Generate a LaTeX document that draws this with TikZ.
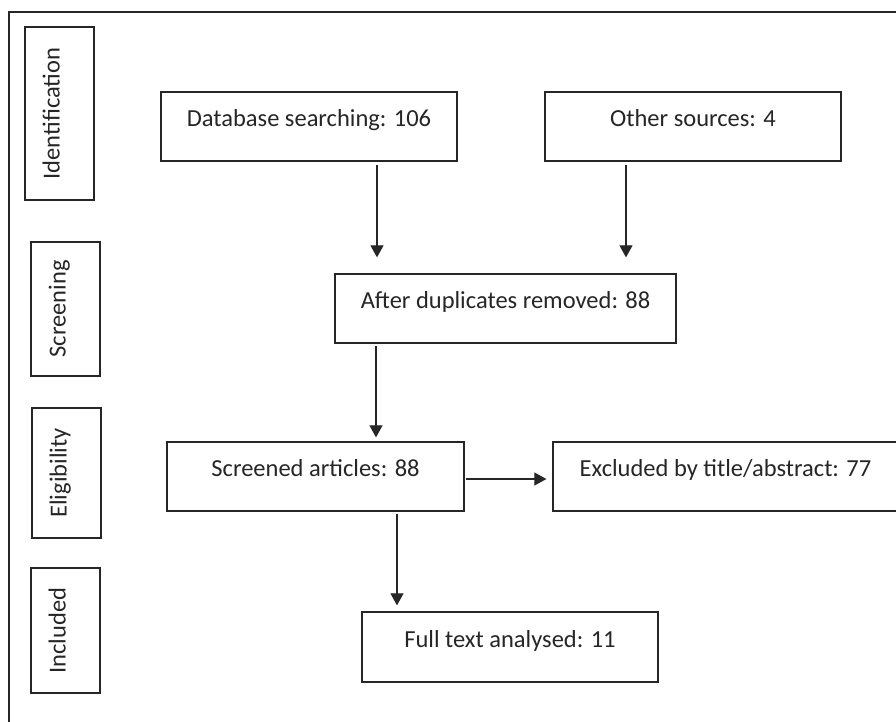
\documentclass[tikz,border=0pt]{standalone}
\usepackage{fontspec}
\setmainfont{Carlito}
\usetikzlibrary{arrows.meta}
\definecolor{ink}{HTML}{262626}
\tikzset{
    box/.style={draw=ink, line width=1.3pt, text=ink, inner sep=0pt,
        minimum height=69pt, text height=12pt, text depth=12pt,
        font=\fontsize{24.5}{29}\selectfont},
    stage/.style={box, rotate=90, minimum height=69pt},
    arr/.style={draw=ink, line width=1.1pt, -{Triangle[width=13pt, length=12pt]}}
}
\begin{document}
\begin{tikzpicture}[x=1pt, y=-1pt]
            \clip (0, 0) rectangle (896, 721);
            \useasboundingbox (0, 0) rectangle (896, 721);
            \fill [white] (0, 0) rectangle (896, 721);
            \draw [draw=ink, line width=1.3pt] (9, 12) rectangle (920, 740);
            \node [stage, minimum width=173pt] (ident) at (59.5, 113.5) {Identification};
            \node [stage, minimum width=134pt] (screen) at (65.5, 309) {Screening};
            \node [stage, minimum width=130pt] (elig) at (66.5, 473) {Eligibility};
            \node [stage, minimum width=125pt] (incl) at (65.5, 630.5) {Included};
            \node [box, minimum width=296pt] (db) at (309, 126.5) {Database searching: 106};
            \node [box, minimum width=296pt] (other) at (693, 126.5) {Other sources: 4};
            \node [box, minimum width=341pt] (dup) at (505.5, 308.5) {After duplicates removed: 88};
            \node [box, minimum width=297pt] (scr) at (315.5, 476.5) {Screened articles: 88};
            \node [box, minimum width=345pt] (excl) at (725.5, 476.5) {Excluded by title/abstract: 77};
            \node [box, minimum width=296pt, minimum height=70pt] (full) at (510, 647) {Full text analysed: 11};
            \coordinate (c1) at (377, 0);
            \coordinate (c2) at (626, 0);
            \coordinate (c3) at (376, 0);
            \coordinate (c4) at (0, 479);
            \coordinate (c5) at (397, 0);
            \draw [arr, shorten <=3pt, shorten >=16pt] (db.south -| c1) -- (dup.north -| c1);
            \draw [arr, shorten <=3pt, shorten >=16pt] (other.south -| c2) -- (dup.north -| c2);
            \draw [arr, shorten <=2pt, shorten >=4pt] (dup.south -| c3) -- (scr.north -| c3);
            \draw [arr, shorten <=1pt, shorten >=6pt] (scr.east |- c4) -- (excl.west |- c4);
            \draw [arr, shorten <=2pt, shorten >=6pt] (scr.south -| c5) -- (full.north -| c5);
        \end{tikzpicture}
\end{document}
